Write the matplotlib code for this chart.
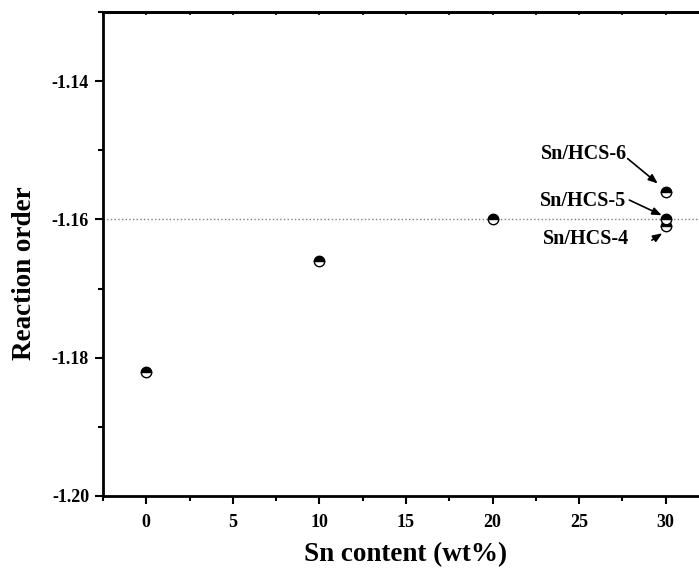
import numpy as np
import matplotlib
matplotlib.use('Agg')
import matplotlib.pyplot as plt
from matplotlib.ticker import MultipleLocator

# data
sn_content = [0, 10, 20, 30, 30, 30]
reaction_order = [-1.182, -1.166, -1.160, -1.156, -1.160, -1.161]

labels = ['Sn/HCS-6', 'Sn/HCS-5', 'Sn/HCS-4']
arrow_tip = [(29.54, -1.1548), (29.77, -1.1594), (29.8, -1.1620)]
arrow_tail = [(27.8, -1.1512), (27.9, -1.1572), (29.2, -1.1630)]
text_pos = [(25.3, -1.1505), (25.2, -1.1573), (25.4, -1.1629)]

ref_level = -1.16

plt.rcParams['font.family'] = ['Liberation Serif', 'DejaVu Serif']
plt.rcParams['font.weight'] = 'bold'

fig = plt.figure(figsize=(6.99, 5.71), dpi=100)
ax = fig.add_axes([103 / 699, 1 - 496 / 571, 606 / 699, (496 - 12) / 571])

ax.axhline(ref_level, color='gray', linestyle=':', linewidth=1, zorder=1)

ax.plot(sn_content, reaction_order, linestyle='none', marker='o', markersize=7.5,
        fillstyle='top', markerfacecolor='black', markerfacecoloralt='white',
        markeredgecolor='black', markeredgewidth=1.0, zorder=3)

for i in range(len(labels)):
    ax.text(text_pos[i][0], text_pos[i][1], labels[i], ha='center', va='center',
            fontsize=14.5, fontweight='bold')
    ax.annotate('', xy=arrow_tip[i], xytext=arrow_tail[i],
                arrowprops=dict(arrowstyle='-|>,head_length=0.55,head_width=0.22',
                                color='black', lw=1.2, shrinkA=0, shrinkB=0))

ax.set_xlim(-2.5, 32.5)
ax.set_ylim(-1.20, -1.13)
ax.xaxis.set_major_locator(MultipleLocator(5))
ax.xaxis.set_minor_locator(MultipleLocator(2.5))
ax.yaxis.set_major_locator(MultipleLocator(0.02))
ax.yaxis.set_minor_locator(MultipleLocator(0.01))
ax.yaxis.set_major_formatter(plt.FormatStrFormatter('%.2f'))

ax.tick_params(which='major', direction='out', length=6, width=1.5, labelsize=13,
               top=False, right=False)
ax.tick_params(which='minor', direction='out', length=3.5, width=1.5, top=False, right=False)
ax.tick_params(axis='x', which='major', pad=7)
ax.tick_params(axis='y', which='major', pad=4)
for lbl in ax.get_xticklabels() + ax.get_yticklabels():
    lbl.set_fontweight('bold')

# small inward ticks on the top spine, no labels
top = ax.secondary_xaxis('top')
top.xaxis.set_major_locator(MultipleLocator(5))
top.xaxis.set_minor_locator(MultipleLocator(2.5))
top.tick_params(which='both', direction='in', length=2.5, width=1.2, labeltop=False)
top.spines['top'].set_linewidth(2)

for s in ax.spines.values():
    s.set_linewidth(2)

ax.set_xlabel('Sn content (wt%)', fontsize=19.5, fontweight='bold', labelpad=8)
ax.set_ylabel('Reaction order', fontsize=19.5, fontweight='bold')
ax.yaxis.set_label_coords(-0.109, 0.461)

plt.savefig('out.png', dpi=100)
